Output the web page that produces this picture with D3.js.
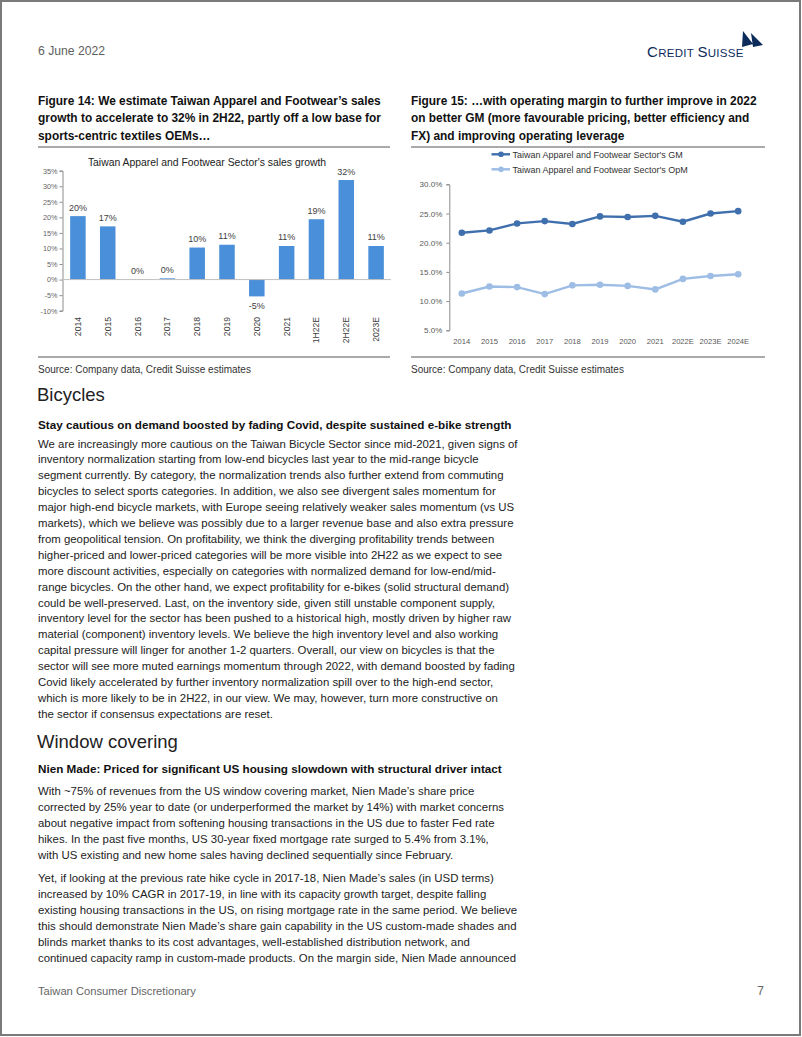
<!DOCTYPE html>
<html>
<head>
<meta charset="utf-8">
<script src="https://cdn.jsdelivr.net/npm/d3@7"></script>
<style>
body { margin: 0; background: #fff; }
svg text { font-family: "Liberation Sans", Arial, sans-serif; }
</style>
</head>
<body>
<svg id="page" width="802" height="1037"></svg>
<script>
// Figure 14 data - sales growth (%)
var growthCats = ["2014", "2015", "2016", "2017", "2018", "2019", "2020", "2021", "1H22E", "2H22E", "2023E"];
var growthVals = [20.4, 17.1, 0.1, 0.4, 10.3, 11.2, -5.4, 10.8, 19.4, 32.0, 10.8];
var growthTicks = [35, 30, 25, 20, 15, 10, 5, 0, -5, -10];

// Figure 15 data - GM and OpM (%)
var marginYears = ["2014", "2015", "2016", "2017", "2018", "2019", "2020", "2021", "2022E", "2023E", "2024E"];
var gmVals = [21.7, 22.1, 23.3, 23.7, 23.2, 24.5, 24.4, 24.6, 23.6, 25.0, 25.4];
var opmVals = [11.3, 12.5, 12.4, 11.2, 12.7, 12.8, 12.6, 12.0, 13.8, 14.3, 14.6];
var marginTicks = [30, 25, 20, 15, 10, 5];
var marginSeries = ["Taiwan Apparel and Footwear Sector's GM", "Taiwan Apparel and Footwear Sector's OpM"];

// Page text
var fig14Title = ["Figure 14: We estimate Taiwan Apparel and Footwear\u2019s sales",
  "growth to accelerate to 32% in 2H22, partly off a low base for",
  "sports-centric textiles OEMs\u2026"];
var fig15Title = ["Figure 15: \u2026with operating margin to further improve in 2022",
  "on better GM (more favourable pricing, better efficiency and",
  "FX) and improving operating leverage"];
var bicycleLines = [
  "We are increasingly more cautious on the Taiwan Bicycle Sector since mid-2021, given signs of",
  "inventory normalization starting from low-end bicycles last year to the mid-range bicycle",
  "segment currently. By category, the normalization trends also further extend from commuting",
  "bicycles to select sports categories. In addition, we also see divergent sales momentum for",
  "major high-end bicycle markets, with Europe seeing relatively weaker sales momentum (vs US",
  "markets), which we believe was possibly due to a larger revenue base and also extra pressure",
  "from geopolitical tension. On profitability, we think the diverging profitability trends between",
  "higher-priced and lower-priced categories will be more visible into 2H22 as we expect to see",
  "more discount activities, especially on categories with normalized demand for low-end/mid-",
  "range bicycles. On the other hand, we expect profitability for e-bikes (solid structural demand)",
  "could be well-preserved. Last, on the inventory side, given still unstable component supply,",
  "inventory level for the sector has been pushed to a historical high, mostly driven by higher raw",
  "material (component) inventory levels. We believe the high inventory level and also working",
  "capital pressure will linger for another 1-2 quarters. Overall, our view on bicycles is that the",
  "sector will see more muted earnings momentum through 2022, with demand boosted by fading",
  "Covid likely accelerated by further inventory normalization spill over to the high-end sector,",
  "which is more likely to be in 2H22, in our view. We may, however, turn more constructive on",
  "the sector if consensus expectations are reset."];
var windowLines1 = [
  "With ~75% of revenues from the US window covering market, Nien Made\u2019s share price",
  "corrected by 25% year to date (or underperformed the market by 14%) with market concerns",
  "about negative impact from softening housing transactions in the US due to faster Fed rate",
  "hikes. In the past five months, US 30-year fixed mortgage rate surged to 5.4% from 3.1%,",
  "with US existing and new home sales having declined sequentially since February."];
var windowLines2 = [
  "Yet, if looking at the previous rate hike cycle in 2017-18, Nien Made\u2019s sales (in USD terms)",
  "increased by 10% CAGR in 2017-19, in line with its capacity growth target, despite falling",
  "existing housing transactions in the US, on rising mortgage rate in the same period. We believe",
  "this should demonstrate Nien Made\u2019s share gain capability in the US custom-made shades and",
  "blinds market thanks to its cost advantages, well-established distribution network, and",
  "continued capacity ramp in custom-made products. On the margin side, Nien Made announced"];

var svg = d3.select("#page");

//Writes a block of lines starting at a baseline
function writeLines(lines, x, y0, step, size, weight, color) {
  svg.append("g").selectAll("text").data(lines).enter().append("text")
     .attr("x", x)
     .attr("y", function(d, i) { return y0 + i * step; })
     .attr("font-size", size)
     .attr("font-weight", weight)
     .attr("fill", color)
     .text(function(d) { return d; });
}

// page frame
svg.append("rect").attr("x", 1).attr("y", 1).attr("width", 799).attr("height", 1034)
   .attr("fill", "none").attr("stroke", "#7a7a7a").attr("stroke-width", 2);

// header
svg.append("text").attr("x", 38).attr("y", 55).attr("font-size", 12.2).attr("fill", "#606060")
   .text("6 June 2022");
var logo = svg.append("text").attr("x", 647).attr("y", 57).attr("fill", "#0c2c5c")
   .attr("font-family", "'Liberation Sans Narrow', 'Liberation Sans', sans-serif")
   .attr("font-size", 11.5).attr("letter-spacing", 0.3);
logo.append("tspan").attr("font-size", 15).text("C");
logo.append("tspan").text("REDIT ");
logo.append("tspan").attr("font-size", 15).text("S");
logo.append("tspan").text("UISSE");
svg.append("path").attr("d", "M743,31 L753,44 L742,47 Z M751,33 L763,45 L753,47 Z")
   .attr("fill", "#0c2c5c");

// figure titles and rules
writeLines(fig14Title, 38, 104.5, 17.6, 11.9, "bold", "#111");
writeLines(fig15Title, 411, 104.5, 17.6, 11.9, "bold", "#111");
[[38, 390], [411, 765]].forEach(function(r) {
  svg.append("line").attr("x1", r[0]).attr("x2", r[1]).attr("y1", 147).attr("y2", 147)
     .attr("stroke", "#555").attr("stroke-width", 1);
  svg.append("line").attr("x1", r[0]).attr("x2", r[1]).attr("y1", 357).attr("y2", 357)
     .attr("stroke", "#555").attr("stroke-width", 1);
});
svg.append("text").attr("x", 38).attr("y", 373).attr("font-size", 10).attr("fill", "#333")
   .text("Source: Company data, Credit Suisse estimates");
svg.append("text").attr("x", 411).attr("y", 373).attr("font-size", 10).attr("fill", "#333")
   .text("Source: Company data, Credit Suisse estimates");

//Draws the bar chart of figure 14
function drawGrowthChart() {
  var g = svg.append("g");
  var x = d3.scaleBand().domain(growthCats).range([63, 391]).paddingInner(0.48).paddingOuter(0.24);
  var y = d3.scaleLinear().domain([-10, 35]).range([310.7, 170.7]);

  g.append("text").attr("x", 207).attr("y", 165.5).attr("text-anchor", "middle")
   .attr("font-size", 10.4).attr("fill", "#222")
   .text("Taiwan Apparel and Footwear Sector's sales growth");

  var yAxis = g.append("g").attr("transform", "translate(62.5,0)")
   .call(d3.axisLeft(y).tickValues(growthTicks).tickSize(3).tickFormat(function(d) { return d + "%"; }));
  yAxis.select(".domain").attr("stroke", "#8c8c8c");
  yAxis.selectAll(".tick line").attr("stroke", "#8c8c8c");
  yAxis.selectAll(".tick text").attr("font-size", 7.3).attr("fill", "#666")
   .attr("font-family", "'Liberation Sans', Arial, sans-serif").attr("x", -5);

  g.selectAll("rect.bar").data(growthVals).enter().append("rect").attr("class", "bar")
   .attr("x", function(d, i) { return x(growthCats[i]); })
   .attr("width", x.bandwidth())
   .attr("y", function(d) { return y(Math.max(0, d)); })
   .attr("height", function(d) { return Math.abs(y(d) - y(0)); })
   .attr("fill", "#4a8fd9");

  g.append("line").attr("x1", 62.5).attr("x2", 391).attr("y1", y(0)).attr("y2", y(0))
   .attr("stroke", "#bfbfbf").attr("stroke-width", 1);

  g.selectAll("text.lbl").data(growthVals).enter().append("text").attr("class", "lbl")
   .attr("x", function(d, i) { return x(growthCats[i]) + x.bandwidth() / 2; })
   .attr("y", function(d) { return d < 0 ? y(d) + 13 : y(d) - 5.5; })
   .attr("text-anchor", "middle").attr("font-size", 9).attr("fill", "#404040")
   .text(function(d) { return Math.round(d) + "%"; });

  g.selectAll("text.cat").data(growthCats).enter().append("text").attr("class", "cat")
   .attr("transform", function(d) {
     return "translate(" + (x(d) + x.bandwidth() / 2 + 3) + ",317) rotate(-90)";
   })
   .attr("text-anchor", "end").attr("font-size", 8.6).attr("fill", "#404040")
   .text(function(d) { return d; });
}

//Draws the line chart of figure 15
function drawMarginChart() {
  var g = svg.append("g");
  var x = d3.scaleBand().domain(marginYears).range([448, 752]);
  var y = d3.scaleLinear().domain([5, 30]).range([330.3, 184.3]);
  var colors = ["#3f70ad", "#9dbde5"];

  var yAxis = g.append("g").attr("transform", "translate(449.3,0)")
   .call(d3.axisLeft(y).tickValues(marginTicks).tickSize(3).tickFormat(function(d) { return d.toFixed(1) + "%"; }));
  yAxis.select(".domain").attr("stroke", "#8c8c8c");
  yAxis.selectAll(".tick line").attr("stroke", "#8c8c8c");
  yAxis.selectAll(".tick text").attr("font-size", 8).attr("fill", "#595959")
   .attr("font-family", "'Liberation Sans', Arial, sans-serif").attr("x", -7);

  g.selectAll("text.yr").data(marginYears).enter().append("text").attr("class", "yr")
   .attr("x", function(d) { return x(d) + x.bandwidth() / 2; })
   .attr("y", 344).attr("text-anchor", "middle").attr("font-size", 7.6).attr("fill", "#595959")
   .text(function(d) { return d; });

  var line = d3.line()
   .x(function(d, i) { return x(marginYears[i]) + x.bandwidth() / 2; })
   .y(function(d) { return y(d); });

  [opmVals, gmVals].forEach(function(vals, k) {
    var c = colors[1 - k];
    g.append("path").attr("d", line(vals)).attr("fill", "none")
     .attr("stroke", c).attr("stroke-width", 2.4);
    g.selectAll("circle.s" + k).data(vals).enter().append("circle").attr("class", "s" + k)
     .attr("cx", function(d, i) { return x(marginYears[i]) + x.bandwidth() / 2; })
     .attr("cy", function(d) { return y(d); })
     .attr("r", 3.3).attr("fill", c);
  });

  // legend
  marginSeries.forEach(function(name, k) {
    var ly = 154.3 + k * 15;
    g.append("line").attr("x1", 491.5).attr("x2", 510).attr("y1", ly).attr("y2", ly)
     .attr("stroke", colors[k]).attr("stroke-width", 2.4);
    g.append("circle").attr("cx", 501).attr("cy", ly).attr("r", 2.8).attr("fill", colors[k]);
    g.append("text").attr("x", 512.5).attr("y", ly + 3.2).attr("font-size", 9).attr("fill", "#333")
     .text(name);
  });
}

drawGrowthChart();
drawMarginChart();

// Bicycles section
svg.append("text").attr("x", 37).attr("y", 401).attr("font-size", 18.5)
   .attr("font-family", "Roboto, 'Liberation Sans', sans-serif").attr("font-weight", 300)
   .attr("fill", "#222").text("Bicycles");
writeLines(["Stay cautious on demand boosted by fading Covid, despite sustained e-bike strength"], 38, 429, 16, 11.7, "bold", "#111");
writeLines(bicycleLines, 38, 447.5, 15.9, 11.4, "normal", "#222");

// Window covering section
svg.append("text").attr("x", 37).attr("y", 748).attr("font-size", 18.5)
   .attr("font-family", "Roboto, 'Liberation Sans', sans-serif").attr("font-weight", 300)
   .attr("fill", "#222").text("Window covering");
writeLines(["Nien Made: Priced for significant US housing slowdown with structural driver intact"], 38, 773, 16, 11.7, "bold", "#111");
writeLines(windowLines1, 38, 794.5, 16, 11.4, "normal", "#222");
writeLines(windowLines2, 38, 881.5, 16, 11.4, "normal", "#222");

// footer
svg.append("text").attr("x", 38).attr("y", 995).attr("font-size", 11.2).attr("fill", "#666")
   .text("Taiwan Consumer Discretionary");
svg.append("text").attr("x", 764).attr("y", 995).attr("font-size", 12).attr("fill", "#666")
   .attr("text-anchor", "end").text("7");
</script>
</body>
</html>
